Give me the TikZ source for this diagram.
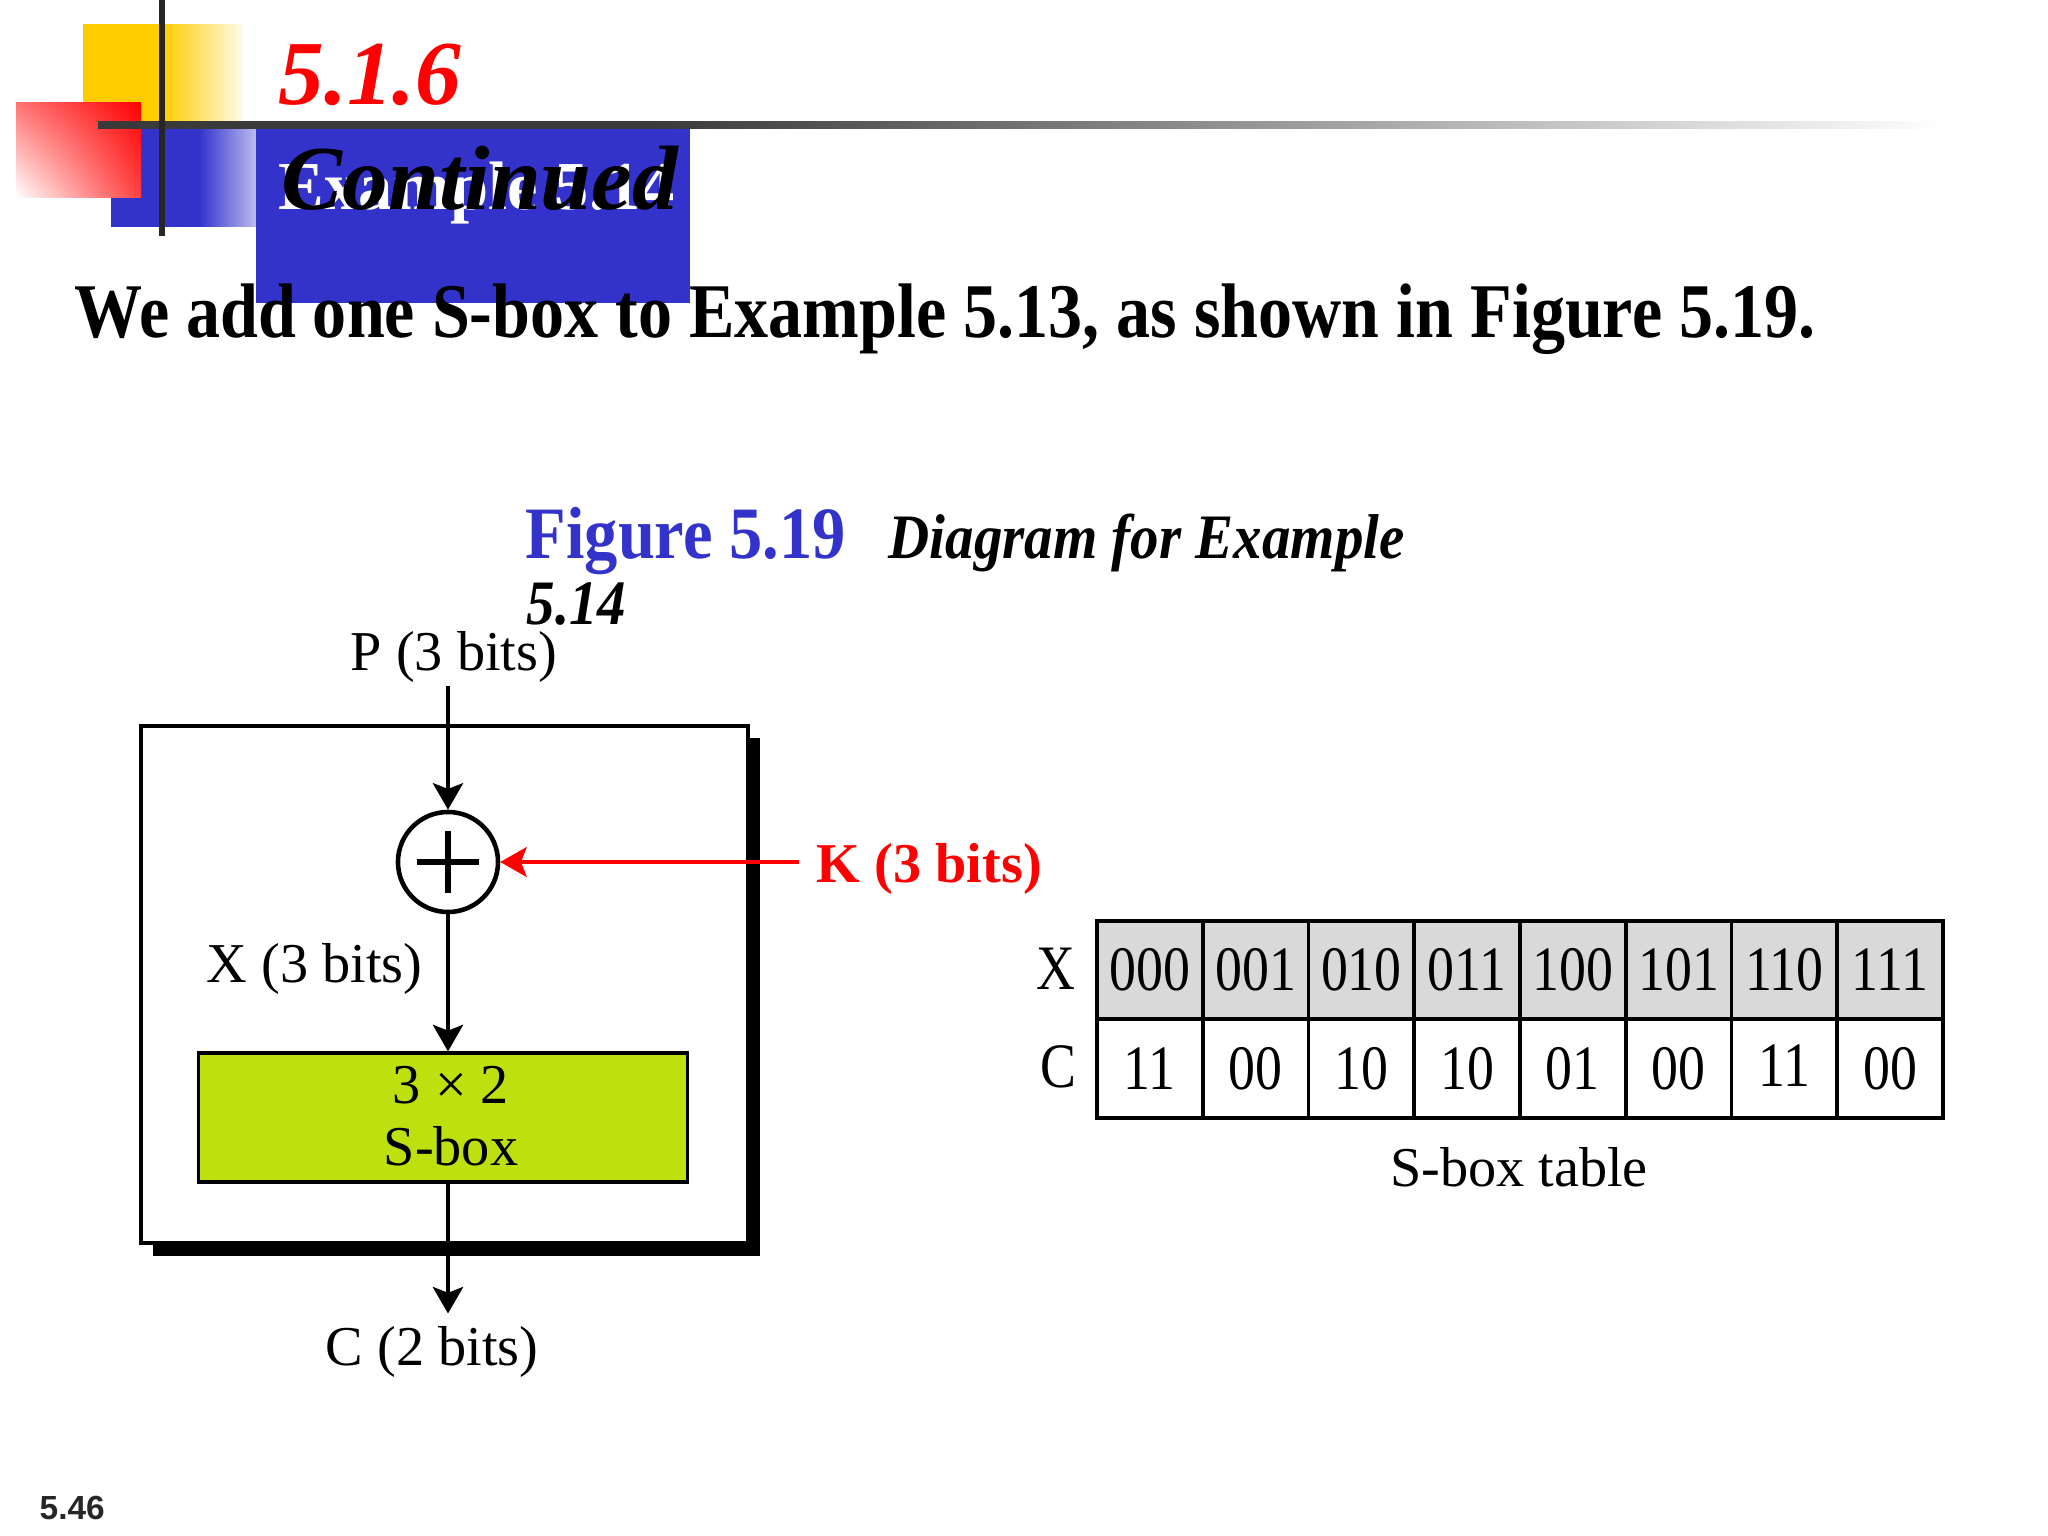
\documentclass[tikz,border=0pt]{standalone}
\usepackage{fontspec}
\setmainfont{Liberation Serif}
\newfontfamily\slidefont[FakeStretch=0.88]{Liberation Serif}
\newfontfamily\capfont[FakeStretch=0.9]{Liberation Serif}
\newfontfamily\condfont[FakeStretch=0.85]{Liberation Serif}
\newfontfamily\arialfont{Liberation Sans}
\usetikzlibrary{arrows.meta,shadings}
\definecolor{tblue}{HTML}{3333CC}
\definecolor{tyellow}{HTML}{FFCC00}
\definecolor{sboxgreen}{HTML}{BFE00F}
\definecolor{tgray}{HTML}{D9D9D9}
\definecolor{linedark}{HTML}{3A3A3A}
\colorlet{bluepale}{tblue!12!white}
\colorlet{yelpale}{tyellow!10!white}
\pgfdeclarehorizontalshading{yelfade}{100bp}{color(0bp)=(tyellow); color(25bp)=(tyellow); color(50bp)=(tyellow); color(75bp)=(yelpale); color(100bp)=(yelpale)}
\pgfdeclarehorizontalshading{bluefade}{100bp}{color(0bp)=(tblue); color(25bp)=(tblue); color(52bp)=(tblue); color(75bp)=(bluepale); color(100bp)=(bluepale)}
\pgfdeclarehorizontalshading{linefade}{100bp}{color(0bp)=(linedark); color(25bp)=(linedark); color(40bp)=(linedark); color(75bp)=(white); color(100bp)=(white)}
\tikzset{
  arr/.style={line width=1.4pt,-{Stealth[length=7.5pt,width=8.5pt,inset=1.6pt]}},
  lbl/.style={anchor=base,font=\fontsize{16}{19}\selectfont},
  cellx/.style={draw,fill=tgray,line width=1.1pt,minimum width=1.0575cm,minimum height=0.98cm,inner sep=0,font=\condfont\fontsize{18}{21}\selectfont},
  cellc/.style={draw,fill=white,line width=1.1pt,minimum width=1.0575cm,minimum height=0.99cm,inner sep=0,font=\condfont\fontsize{18}{21}\selectfont},
}
\begin{document}
\begin{tikzpicture}[x=0.01cm,y=-0.01cm]
\useasboundingbox[fill=white] (0,0) rectangle (2048,1536);
% header decoration
\shade[shading=yelfade] (83,24) rectangle (242,122);
\shade[shading=bluefade] (111,124) rectangle (274,226);
\shade[upper left=red!55!white, upper right=red, lower left=white, lower right=red!75!white] (16,102) rectangle (141,197);
\fill[tblue] (256,127) rectangle (690,303);
\shade[shading=linefade] (98,121) rectangle (1946,128);
\fill[black!85] (159,0) rectangle (165,236);
% header text
\node[anchor=base west,inner sep=0,text=red,font=\fontsize{26}{30}\selectfont\bfseries\itshape] (sec) at (278,104) {5.1.6};
\node[anchor=base west,inner sep=0,text=white,font=\fontsize{19.5}{23}\selectfont\bfseries] (ex) at (278,209) {Example 5.14};
\node[anchor=base west,inner sep=0,font=\fontsize{26}{30}\selectfont\bfseries\itshape] (cont) at (281,209) {Continued};
\node[anchor=base west,inner sep=0,font=\slidefont\fontsize{22}{26}\selectfont\bfseries] (intro) at (74,337) {We add one S-box to Example 5.13, as shown in Figure 5.19.};
\node[anchor=base west,inner sep=0,text=tblue,font=\capfont\fontsize{21}{25}\selectfont\bfseries] (fig) at (525,558) {Figure 5.19};
\node[anchor=base west,inner sep=0,font=\capfont\fontsize{18}{22}\selectfont\bfseries\itshape] (cap) at (888,558) {Diagram for Example};
\node[anchor=base west,inner sep=0,font=\capfont\fontsize{18}{22}\selectfont\bfseries\itshape] (cap2) at (526,624) {5.14};
\node[anchor=base west,inner sep=0,font=\arialfont\fontsize{9.5}{11}\selectfont\bfseries,text=black!85] (pg) at (39,1519) {5.46};
% diagram frame with shadow
\fill[black] (153,738) rectangle (760,1256);
\draw[line width=0.9pt,fill=white] (141,726) rectangle (748,1243);
% diagram
\node[lbl,inner sep=1pt] (p) at (454,670) {P (3 bits)};
\node[circle,draw,line width=1.3pt,minimum size=1.0cm,inner sep=0] (xor) at (448,862) {};
\draw[line width=1.8pt] (xor.center) ++(-31,0) -- ++(62,0);
\draw[line width=1.8pt] (xor.center) ++(0,-31) -- ++(0,62);
\draw[arr] (xor |- p.south) -- (xor.north);
\node[anchor=base west,inner sep=0,text=red,font=\fontsize{16}{19}\selectfont\bfseries] (k) at (816,882) {K (3 bits)};
\draw[arr,red,line width=1pt,shorten <=4.8pt] (k.west |- xor.east) -- (xor.east);
\node[anchor=base west,inner sep=0,font=\fontsize{16}{19}\selectfont] (xl) at (206,982) {X (3 bits)};
\node[draw,fill=sboxgreen,line width=0.9pt,minimum width=4.88cm,minimum height=1.29cm] (sbox) at (443,1117.5) {};
\node[align=center,inner sep=0,font=\fontsize{16}{17.6}\selectfont] (sboxlbl) at (451,1116) {3 × 2\\S-box};
\draw[arr] (xor.south) -- (xor |- sbox.north);
\node[lbl] (c) at (432,1365) {C (2 bits)};
\draw[arr] (xor |- sbox.south) -- (xor |- c.north);
% table
\foreach \i/\xv/\cv/\dy in {0/000/11/0,1/001/00/0,2/010/10/0,3/011/10/0,4/100/01/0,5/101/00/0,6/110/11/1.4,7/111/00/0}{
  \node[cellx] (x\i) at ({1149.875+105.75*\i},970) {\xv};
  \node[cellc] (c\i) at ({1149.875+105.75*\i},1068.5) {\raisebox{\dy pt}{\cv}};
}
\node[anchor=base,inner sep=0,font=\condfont\fontsize{18}{21}\selectfont] (xlab) at (1056,989) {X};
\node[anchor=base,inner sep=0,font=\condfont\fontsize{18}{21}\selectfont] (clab) at (1058,1087) {C};
\node[lbl] (tcap) at (1519,1186) {S-box table};
\end{tikzpicture}
\end{document}
